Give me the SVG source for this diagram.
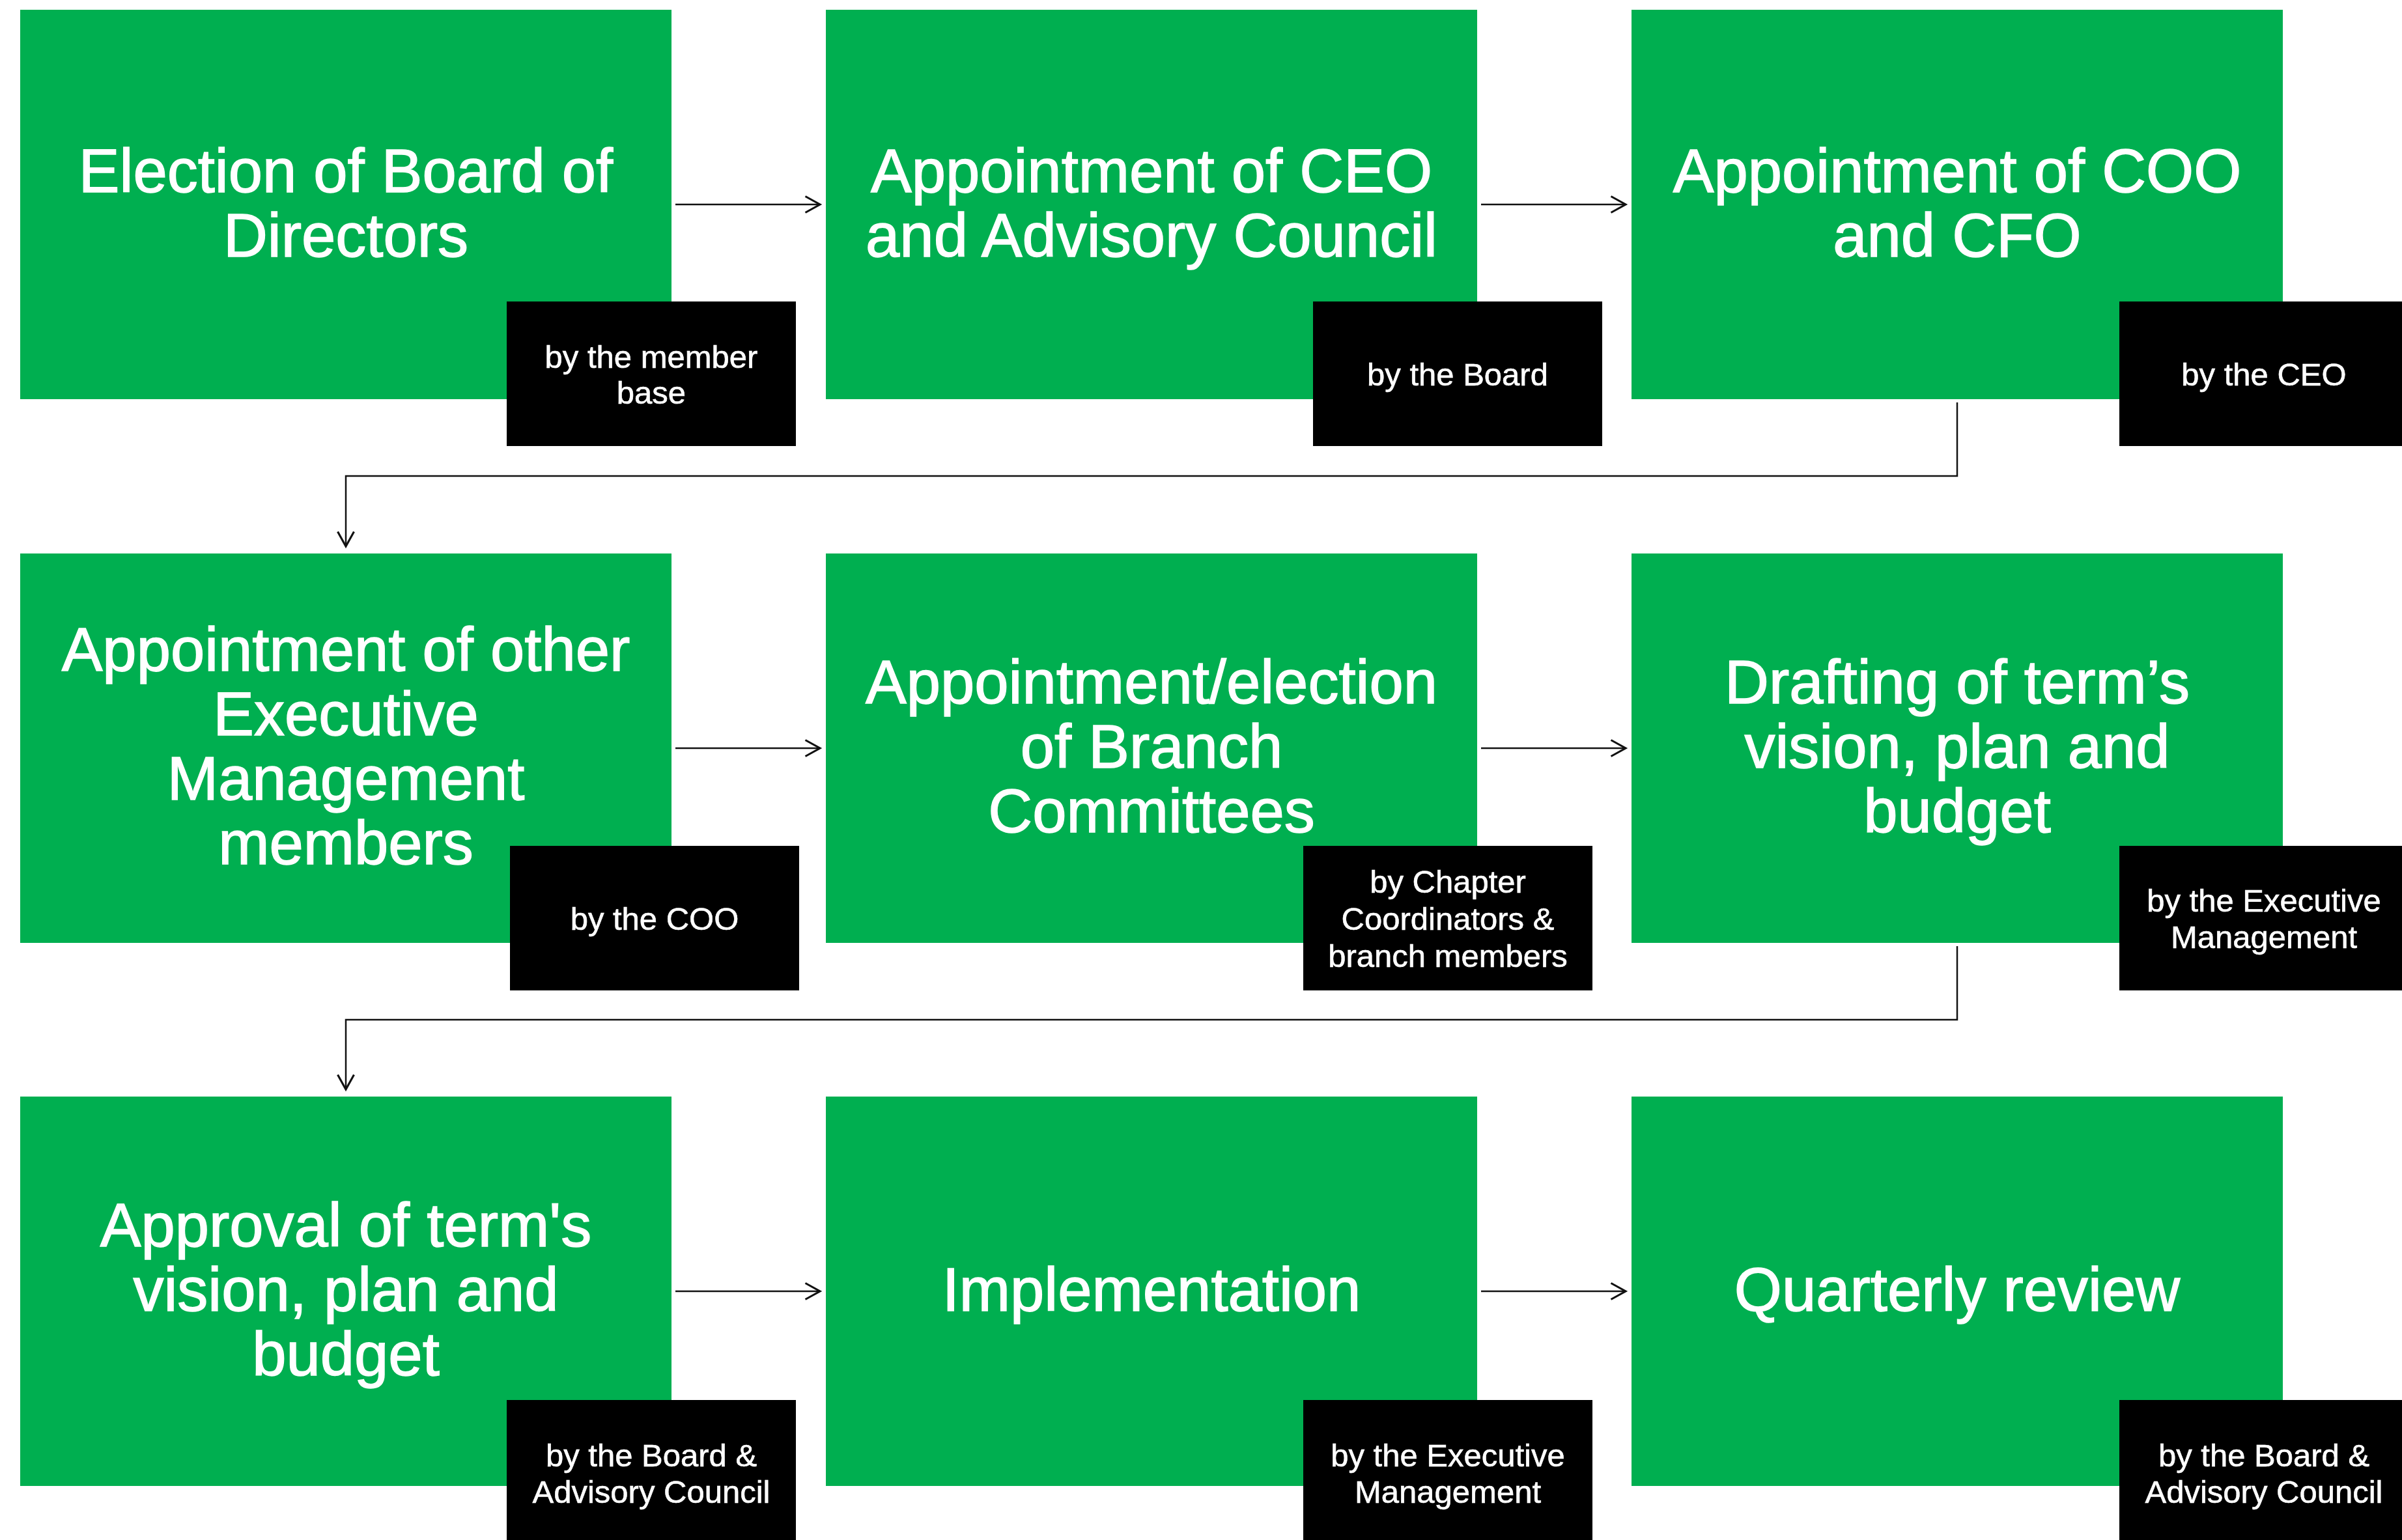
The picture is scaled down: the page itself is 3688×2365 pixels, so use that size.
<svg xmlns="http://www.w3.org/2000/svg" width="3688" height="2365" viewBox="0 0 3688 2365">
<style>
.step{fill:#00AF50}
.who{fill:#000}
.t{font-family:"Liberation Sans",Arial,Helvetica,sans-serif;font-size:94px;fill:#fff;stroke:#fff;stroke-width:1.5;text-anchor:middle}
.l{font-family:"Liberation Sans",Arial,Helvetica,sans-serif;font-size:49px;fill:#fff;stroke:#fff;stroke-width:0.6;text-anchor:middle}
.c{fill:none;stroke:#111;stroke-width:2.5}
</style>
<defs>
<marker id="ah" markerUnits="userSpaceOnUse" markerWidth="30" markerHeight="30" viewBox="-20 -12 22 24" refX="0" refY="0" orient="auto">
<path d="M-18,-10 L0,0 L-18,10" fill="none" stroke="#111" stroke-width="2.5"/>
</marker>
</defs>
<rect width="3688" height="2365" fill="#fff"/>
<g id="connectors">
<path class="c" d="M1037,314 H1259" marker-end="url(#ah)"/>
<path class="c" d="M2274,314 H2496" marker-end="url(#ah)"/>
<path class="c" d="M3005,618 V731 H531 V839" marker-end="url(#ah)"/>
<path class="c" d="M1037,1149 H1259" marker-end="url(#ah)"/>
<path class="c" d="M2274,1149 H2496" marker-end="url(#ah)"/>
<path class="c" d="M3005,1453 V1566 H531 V1673" marker-end="url(#ah)"/>
<path class="c" d="M1037,1983 H1259" marker-end="url(#ah)"/>
<path class="c" d="M2274,1983 H2496" marker-end="url(#ah)"/>
</g>
<g id="n1">
<rect class="step" x="31" y="15" width="1000" height="598"/>
<text class="t"><tspan x="531" y="295">Election of Board of</tspan><tspan x="531" y="394">Directors</tspan></text>
<rect class="who" x="778" y="463" width="444" height="222"/>
<text class="l"><tspan x="1000" y="565">by the member</tspan><tspan x="1000" y="620">base</tspan></text>
</g>
<g id="n2">
<rect class="step" x="1268" y="15" width="1000" height="598"/>
<text class="t"><tspan x="1768" y="295">Appointment of CEO</tspan><tspan x="1768" y="394">and Advisory Council</tspan></text>
<rect class="who" x="2016" y="463" width="444" height="222"/>
<text class="l"><tspan x="2238" y="592">by the Board</tspan></text>
</g>
<g id="n3">
<rect class="step" x="2505" y="15" width="1000" height="598"/>
<text class="t"><tspan x="3005" y="295">Appointment of COO</tspan><tspan x="3005" y="394">and CFO</tspan></text>
<rect class="who" x="3254" y="463" width="444" height="222"/>
<text class="l"><tspan x="3476" y="592">by the CEO</tspan></text>
</g>
<g id="n4">
<rect class="step" x="31" y="850" width="1000" height="598"/>
<text class="t"><tspan x="531" y="1030">Appointment of other</tspan><tspan x="531" y="1129">Executive</tspan><tspan x="531" y="1228">Management</tspan><tspan x="531" y="1327">members</tspan></text>
<rect class="who" x="783" y="1299" width="444" height="222"/>
<text class="l"><tspan x="1005" y="1428">by the COO</tspan></text>
</g>
<g id="n5">
<rect class="step" x="1268" y="850" width="1000" height="598"/>
<text class="t"><tspan x="1768" y="1080">Appointment/election</tspan><tspan x="1768" y="1179">of Branch</tspan><tspan x="1768" y="1278">Committees</tspan></text>
<rect class="who" x="2001" y="1299" width="444" height="222"/>
<text class="l"><tspan x="2223" y="1371">by Chapter</tspan><tspan x="2223" y="1428">Coordinators &amp;</tspan><tspan x="2223" y="1485">branch members</tspan></text>
</g>
<g id="n6">
<rect class="step" x="2505" y="850" width="1000" height="598"/>
<text class="t"><tspan x="3005" y="1080">Drafting of term’s</tspan><tspan x="3005" y="1179">vision, plan and</tspan><tspan x="3005" y="1278">budget</tspan></text>
<rect class="who" x="3254" y="1299" width="444" height="222"/>
<text class="l"><tspan x="3476" y="1400">by the Executive</tspan><tspan x="3476" y="1456">Management</tspan></text>
</g>
<g id="n7">
<rect class="step" x="31" y="1684" width="1000" height="598"/>
<text class="t"><tspan x="531" y="1914">Approval of term's</tspan><tspan x="531" y="2013">vision, plan and</tspan><tspan x="531" y="2112">budget</tspan></text>
<rect class="who" x="778" y="2150" width="444" height="222"/>
<text class="l"><tspan x="1000" y="2252">by the Board &amp;</tspan><tspan x="1000" y="2308">Advisory Council</tspan></text>
</g>
<g id="n8">
<rect class="step" x="1268" y="1684" width="1000" height="598"/>
<text class="t"><tspan x="1768" y="2013">Implementation</tspan></text>
<rect class="who" x="2001" y="2150" width="444" height="222"/>
<text class="l"><tspan x="2223" y="2252">by the Executive</tspan><tspan x="2223" y="2308">Management</tspan></text>
</g>
<g id="n9">
<rect class="step" x="2505" y="1684" width="1000" height="598"/>
<text class="t"><tspan x="3005" y="2013">Quarterly review</tspan></text>
<rect class="who" x="3254" y="2150" width="444" height="222"/>
<text class="l"><tspan x="3476" y="2252">by the Board &amp;</tspan><tspan x="3476" y="2308">Advisory Council</tspan></text>
</g>
</svg>
